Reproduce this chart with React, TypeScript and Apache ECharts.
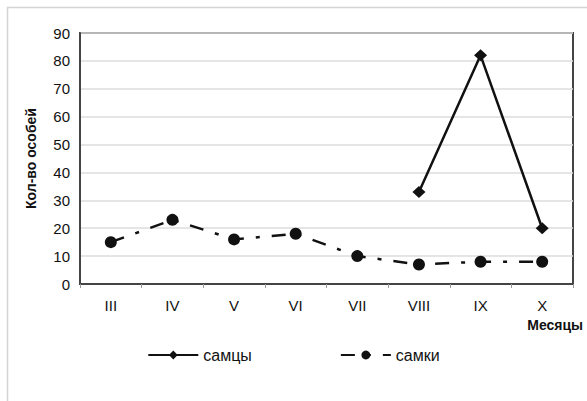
import React, { useEffect, useRef } from "react";
import * as echarts from "echarts";

const months = ["III", "IV", "V", "VI", "VII", "VIII", "IX", "X"];
const males = [null, null, null, null, null, 33, 82, 20];
const females = [15, 23, 16, 18, 10, 7, 8, 8];
const yTicks = { min: 0, max: 90, interval: 10 };

export default function App() {
  const ref = useRef<HTMLDivElement>(null);
  useEffect(() => {
    const chart = echarts.init(ref.current!, null, { renderer: "svg" });
    const font = "'Liberation Sans', Arial, sans-serif";
    chart.setOption({
      animation: false,
      backgroundColor: "#fff",
      graphic: [
        {
          type: "rect",
          shape: { x: 7.5, y: 7.5, width: 600, height: 420 },
          style: { fill: "none", stroke: "#d4d4d4", lineWidth: 1.5 },
          z: -1,
        },
      ],
      grid: { left: 80, top: 33, right: 14, bottom: 117, show: true, borderColor: "#444", borderWidth: 2, backgroundColor: "transparent" },
      xAxis: {
        type: "category",
        data: months,
        boundaryGap: true,
        name: "Месяцы",
        nameLocation: "end",
        nameGap: 0,
        nameTextStyle: { fontFamily: font, fontWeight: "bold", fontSize: 14, color: "#111", align: "right", verticalAlign: "top", padding: [34, -10, 0, 0] },
        axisLine: { lineStyle: { color: "#444", width: 2 } },
        axisTick: { show: true, length: 4, lineStyle: { color: "#999" } },
        axisLabel: { fontFamily: font, fontSize: 15, color: "#111", margin: 14 },
      },
      yAxis: {
        type: "value",
        ...yTicks,
        name: "Кол-во особей",
        nameLocation: "middle",
        nameGap: 42,
        nameRotate: 90,
        nameTextStyle: { fontFamily: font, fontWeight: "bold", fontSize: 14, color: "#111" },
        axisLine: { show: true, lineStyle: { color: "#444", width: 2 } },
        axisTick: { show: false },
        axisLabel: { fontFamily: font, fontSize: 15, color: "#111", margin: 10 },
        splitLine: { lineStyle: { color: "#ddd", width: 1.5 } },
      },
      legend: {
        bottom: 33,
        left: "center",
        itemWidth: 50,
        itemHeight: 11,
        itemGap: 88,
        textStyle: { fontFamily: font, fontSize: 16, color: "#111" },
        data: ["самцы", "самки"],
      },
      series: [
        {
          name: "самцы",
          type: "line",
          data: males,
          connectNulls: false,
          symbol: "diamond",
          symbolSize: [13, 12],
          itemStyle: { color: "#111" },
          lineStyle: { color: "#111", width: 2.5 },
        },
        {
          name: "самки",
          type: "line",
          data: females,
          symbol: "circle",
          symbolSize: 12,
          itemStyle: { color: "#111" },
          lineStyle: { color: "#111", width: 2.5, type: [14, 12, 4, 12] },
        },
      ],
    });
    return () => chart.dispose();
  }, []);
  return <div ref={ref} style={{ position: "fixed", left: 0, top: 0, width: 587, height: 401 }} />;
}
